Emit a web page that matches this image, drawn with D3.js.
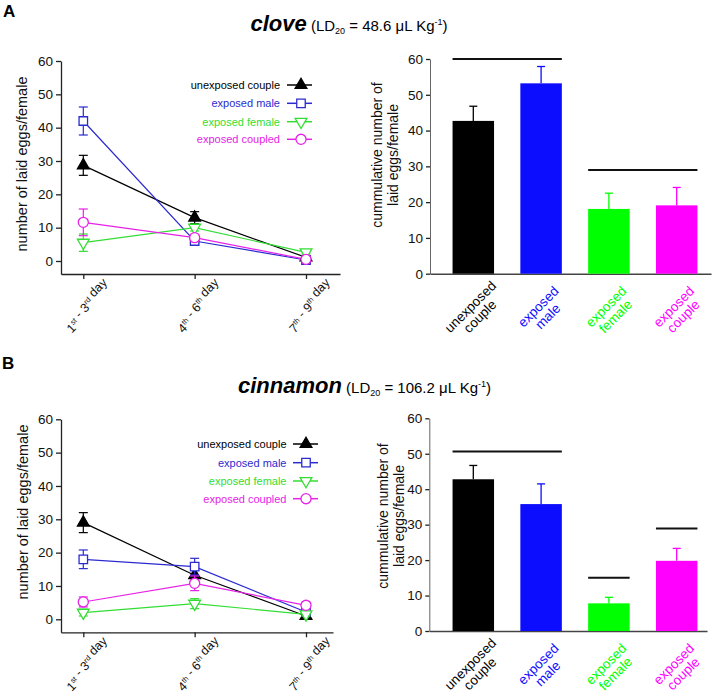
<!DOCTYPE html>
<html><head><meta charset="utf-8">
<script src="https://cdn.jsdelivr.net/npm/d3@7"></script>
<style>
body{margin:0;background:#fff}
text{font-family:"Liberation Sans",Arial,Helvetica,sans-serif}
</style>
</head><body>
<svg id="chart" width="712" height="695"></svg>
<script>
// ---------- data ----------
const periods = ["1st - 3rd day", "4th - 6th day", "7th - 9th day"];
const lineGroups = ["unexposed couple", "exposed male", "exposed female", "exposed coupled"];
const barGroups = ["unexposed couple", "exposed male", "exposed female", "exposed couple"];
const yTicks = [0, 10, 20, 30, 40, 50, 60];

// clove – eggs per period (mean, sem)
const cloveUnexposed = [28.7, 13.0, 1.1];  const cloveUnexposedErr = [3.0, 1.8, 0.5];
const cloveMale      = [42.0, 6.0, 0.3];   const cloveMaleErr      = [4.2, 0.8, 0.3];
const cloveFemale    = [5.5, 10.0, 2.6];   const cloveFemaleErr    = [2.6, 1.0, 0.5];
const cloveCoupled   = [11.6, 7.0, 0.5];   const cloveCoupledErr   = [4.0, 1.0, 0.3];
// clove – cumulative
const cloveCumulative    = [42.7, 53.2, 18.1, 19.1];
const cloveCumulativeErr = [4.1, 4.7, 4.4, 5.0];
const cloveSigLines = [[0, 1, 60], [2, 3, 29]];

// cinnamon – eggs per period
const cinnUnexposed = [29.0, 13.2, 1.0];  const cinnUnexposedErr = [3.0, 1.5, 0.3];
const cinnMale      = [18.0, 15.8, 2.2];  const cinnMaleErr      = [2.8, 2.5, 0.5];
const cinnFemale    = [2.0, 4.7, 1.5];    const cinnFemaleErr    = [1.0, 1.5, 0.5];
const cinnCoupled   = [5.2, 10.8, 4.2];   const cinnCoupledErr   = [1.5, 2.2, 1.0];
// cinnamon – cumulative
const cinnCumulative    = [42.8, 35.8, 7.8, 19.8];
const cinnCumulativeErr = [3.9, 5.7, 1.7, 3.5];
const cinnSigLines = [[0, 1, 50.6], [2, 2, 15], [3, 3, 28.9]];

// ---------- styles ----------
const lineColors = ["#000000", "#2b2bd0", "#33dd33", "#e622e6"];
const barColors  = ["#000000", "#0c0cff", "#00ff00", "#ff00ff"];
const symbols = [
  {type: d3.symbolTriangle, size: 60, rot: 0, fill: true},
  {type: d3.symbolSquare, size: 72, rot: 0, fill: false},
  {type: d3.symbolTriangle, size: 60, rot: 180, fill: false},
  {type: d3.symbolCircle, size: 80, rot: 0, fill: false}
];

const svg = d3.select("#chart");

function addDayLabel(t, label) {
  const re = /(\d+)(st|nd|rd|th)/g;
  let last = 0, m;
  while ((m = re.exec(label)) !== null) {
    if (m.index > last) t.append("tspan").text(label.slice(last, m.index));
    t.append("tspan").text(m[1]);
    t.append("tspan").attr("font-size", "7.5px").attr("dy", "-5").text(m[2]);
    t.append("tspan").attr("dy", "5").text("");
    last = m.index + m[0].length;
  }
  t.append("tspan").text(label.slice(last));
}

function styleAxis(g) {
  g.selectAll("path,line").attr("stroke", "#222").attr("stroke-width", 1.3);
  g.selectAll("text").attr("fill", "#111").attr("font-size", "13.5px")
    .attr("font-family", "Liberation Sans, Arial, sans-serif");
}

function drawLinePanel(cfg) {
  const {series, errs, left, right, top, zero, bottom, cat0, cat2, labelX, labelY, legRight, legRows, legLine, legSym} = cfg;
  const y = d3.scaleLinear().domain([0, 60]).range([zero, top]);
  const yAx = y.copy().domain([y.invert(bottom), 60]).range([bottom, top]);
  const step = (cat2 - cat0) / 2;
  const x = d3.scaleLinear().domain([(left - cat0) / step, (right - cat0) / step]).range([left, right]);

  const gy = svg.append("g").attr("transform", `translate(${left},0)`)
    .call(d3.axisLeft(yAx).tickValues(yTicks).tickSize(5).tickSizeOuter(0).tickPadding(3));
  styleAxis(gy);
  const gx = svg.append("g").attr("transform", `translate(0,${bottom})`)
    .call(d3.axisBottom(x).tickValues([0, 1, 2]).tickFormat("").tickSize(5).tickSizeOuter(0));
  styleAxis(gx);

  periods.forEach((p, i) => {
    const cx = x(i) + 7, cy = bottom + 35;
    const t = svg.append("text")
      .attr("transform", `translate(${cx},${cy}) rotate(-45)`)
      .attr("text-anchor", "middle").attr("dy", "0.35em")
      .attr("font-size", "12.5px").attr("fill", "#111");
    addDayLabel(t, p);
  });

  svg.append("text")
    .attr("transform", `translate(${labelX},${labelY}) rotate(-90)`)
    .attr("text-anchor", "middle").attr("dy", "0.35em")
    .attr("font-size", "14.5px").attr("fill", "#111")
    .text("number of laid eggs/female");

  const line = d3.line().x((d, i) => x(i)).y(d => y(d));
  series.forEach((s, k) => {
    svg.append("path").attr("d", line(s)).attr("fill", "none")
      .attr("stroke", lineColors[k]).attr("stroke-width", 1.2);
  });
  series.forEach((s, k) => {
    const g = svg.append("g");
    s.forEach((v, i) => {
      const e = errs[k][i];
      const cx = x(i);
      g.append("line").attr("x1", cx).attr("x2", cx).attr("y1", y(v - e)).attr("y2", y(v + e))
        .attr("stroke", lineColors[k]).attr("stroke-width", 1.2);
      [v - e, v + e].forEach(w => g.append("line").attr("x1", cx - 4.5).attr("x2", cx + 4.5)
        .attr("y1", y(w)).attr("y2", y(w)).attr("stroke", lineColors[k]).attr("stroke-width", 1.2));
      const sym = symbols[k];
      g.append("path").attr("d", d3.symbol().type(sym.type).size(sym.size)())
        .attr("transform", `translate(${cx},${y(v)}) rotate(${sym.rot})`)
        .attr("fill", sym.fill ? lineColors[k] : "#fff")
        .attr("stroke", lineColors[k]).attr("stroke-width", 1.3);
    });
  });

  lineGroups.forEach((name, k) => {
    const ry = legRows[k];
    svg.append("text").attr("x", legRight).attr("y", ry).attr("dy", "0.35em")
      .attr("text-anchor", "end").attr("font-size", "11px").attr("fill", lineColors[k]).text(name);
    svg.append("line").attr("x1", legLine[0]).attr("x2", legLine[1]).attr("y1", ry).attr("y2", ry)
      .attr("stroke", lineColors[k]).attr("stroke-width", 1.5);
    const sym = symbols[k];
    svg.append("path").attr("d", d3.symbol().type(sym.type).size(sym.size)())
      .attr("transform", `translate(${legSym},${ry}) rotate(${sym.rot})`)
      .attr("fill", sym.fill ? lineColors[k] : "#fff")
      .attr("stroke", lineColors[k]).attr("stroke-width", 1.3);
  });
}

function drawBarPanel(cfg) {
  const {values, errs, sig, left, right, top, zero, bandLo, bandHi, lab1X, lab2X, labY} = cfg;
  const y = d3.scaleLinear().domain([0, 60]).range([zero, top]);
  const x = d3.scaleBand().domain(barGroups).range([bandLo, bandHi]).paddingInner(0.388).paddingOuter(0.194);
  const xl = d3.scaleLinear().domain([0, 1]).range([left, right]);

  const gy = svg.append("g").attr("transform", `translate(${left},0)`)
    .call(d3.axisLeft(y).tickValues(yTicks).tickSize(4).tickSizeOuter(0).tickPadding(3));
  styleAxis(gy);
  gy.select(".domain").attr("stroke", "#666").attr("stroke-width", 1);
  const gx = svg.append("g").attr("transform", `translate(0,${zero})`)
    .call(d3.axisBottom(xl).tickValues([]).tickSizeOuter(0));
  styleAxis(gx);
  gx.select(".domain").attr("stroke", "#444").attr("stroke-width", 1.5);

  values.forEach((v, i) => {
    const g = barGroups[i];
    const cx = x(g) + x.bandwidth() / 2;
    svg.append("line").attr("x1", cx).attr("x2", cx).attr("y1", y(v)).attr("y2", y(v + errs[i]))
      .attr("stroke", barColors[i]).attr("stroke-width", 1.3);
    svg.append("line").attr("x1", cx - 4).attr("x2", cx + 4).attr("y1", y(v + errs[i])).attr("y2", y(v + errs[i]))
      .attr("stroke", barColors[i]).attr("stroke-width", 1.3);
    svg.append("rect").attr("x", x(g)).attr("width", x.bandwidth())
      .attr("y", y(v)).attr("height", y(0) - y(v)).attr("fill", barColors[i]);
    const words = g.split(" ");
    const t = svg.append("text")
      .attr("transform", `translate(${cx - 3},${zero + 33}) rotate(-45)`)
      .attr("text-anchor", "middle").attr("font-size", "13.5px").attr("fill", barColors[i]);
    t.append("tspan").attr("x", 0).attr("dy", "0.35em").text(words[0]);
    t.append("tspan").attr("x", 0).attr("dy", "1.0em").text(words[1]);
  });

  sig.forEach(([a, b, v]) => {
    svg.append("line").attr("x1", x(barGroups[a])).attr("x2", x(barGroups[b]) + x.bandwidth())
      .attr("y1", y(v)).attr("y2", y(v)).attr("stroke", "#111").attr("stroke-width", 2);
  });

  svg.append("text").attr("transform", `translate(${lab1X},${labY}) rotate(-90)`)
    .attr("text-anchor", "middle").attr("dy", "0.35em").attr("font-size", "14px").attr("fill", "#111")
    .text("cummulative number of");
  svg.append("text").attr("transform", `translate(${lab2X},${labY}) rotate(-90)`)
    .attr("text-anchor", "middle").attr("dy", "0.35em").attr("font-size", "14px").attr("fill", "#111")
    .text("laid eggs/female");
}

function drawTitle(letter, lx, ly, name, dose, cx, by) {
  svg.append("text").attr("x", lx).attr("y", ly).attr("font-size", "17px")
    .attr("font-weight", "bold").attr("fill", "#000").text(letter);
  const t = svg.append("text").attr("x", cx).attr("y", by).attr("text-anchor", "middle").attr("fill", "#000");
  t.append("tspan").attr("font-size", "22px").attr("font-weight", "bold").attr("font-style", "italic").text(name);
  t.append("tspan").attr("font-size", "15px").text(" (LD");
  t.append("tspan").attr("font-size", "9px").attr("dy", "3").text("20");
  t.append("tspan").attr("font-size", "15px").attr("dy", "-3").text(" = " + dose + " \u03bcL Kg");
  t.append("tspan").attr("font-size", "9px").attr("dy", "-6").text("-1");
  t.append("tspan").attr("font-size", "15px").attr("dy", "6").text(")");
}

// ---------- panel A ----------
drawTitle("A", 3, 17, "clove", "48.6", 349, 31);
drawLinePanel({
  series: [cloveUnexposed, cloveMale, cloveFemale, cloveCoupled],
  errs: [cloveUnexposedErr, cloveMaleErr, cloveFemaleErr, cloveCoupledErr],
  left: 61, right: 340, top: 61, zero: 261, bottom: 274, cat0: 83.3, cat2: 306,
  labelX: 22, labelY: 164,
  legRight: 280, legRows: [85, 103.3, 121.7, 139.3], legLine: [287, 312], legSym: 301
});
drawBarPanel({
  values: cloveCumulative, errs: cloveCumulativeErr, sig: cloveSigLines,
  left: 430, right: 711, top: 59, zero: 273.7, bandLo: 439.4, bandHi: 710.6,
  lab1X: 377, lab2X: 393.5, labY: 155
});

// ---------- panel B ----------
drawTitle("B", 2, 369, "cinnamon", "106.2", 364.5, 393);
drawLinePanel({
  series: [cinnUnexposed, cinnMale, cinnFemale, cinnCoupled],
  errs: [cinnUnexposedErr, cinnMaleErr, cinnFemaleErr, cinnCoupledErr],
  left: 61, right: 333, top: 419.3, zero: 619.3, bottom: 632.3, cat0: 83.3, cat2: 306,
  labelX: 23, labelY: 512,
  legRight: 286.5, legRows: [444, 462.7, 481, 498.7], legLine: [293, 318], legSym: 306
});
drawBarPanel({
  values: cinnCumulative, errs: cinnCumulativeErr, sig: cinnSigLines,
  left: 429.3, right: 707, top: 418.3, zero: 631, bandLo: 439.4, bandHi: 710.6,
  lab1X: 383, lab2X: 399, labY: 516
});
</script>
</body></html>
